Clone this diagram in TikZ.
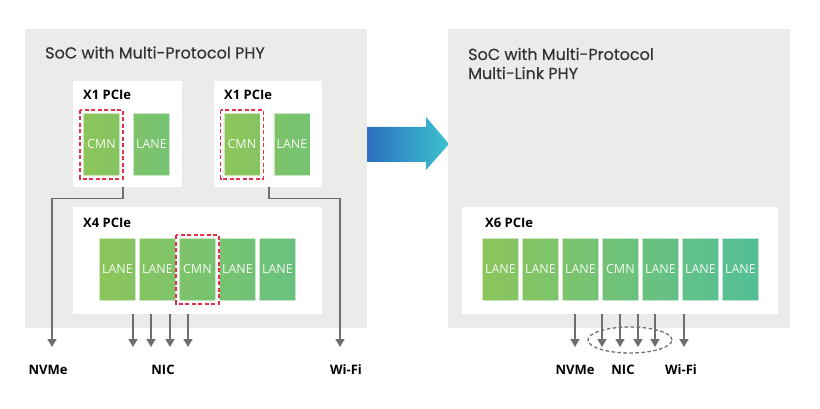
\documentclass[tikz,border=0pt]{standalone}
\usepackage{fontspec}
\setmainfont{Open Sans}
\newfontfamily\ttlfont[FakeBold=0.4]{Poppins}
\usetikzlibrary{arrows.meta,shapes.geometric}
\definecolor{bg}{HTML}{EBEBEA}
\definecolor{txt}{HTML}{333333}
\definecolor{gA}{HTML}{8CC55A}
\definecolor{gB}{HTML}{52BF98}
\definecolor{ln}{HTML}{6E6E6E}
\definecolor{dred}{HTML}{E8304A}
\definecolor{arB}{HTML}{2B6FBF}
\definecolor{arC}{HTML}{3CC2CF}
\tikzset{
  soc/.style={fill=bg, draw=none, anchor=north west, inner sep=0pt},
  wbox/.style={fill=white, draw=none, anchor=north west, inner sep=0pt},
  blk/.style={minimum width=36pt, minimum height=62pt, inner sep=0pt, anchor=north west,
    draw=white, draw opacity=0.6, line width=0.8pt, text=white!92!gA,
    font=\fontsize{12.5}{12.5}\selectfont},
  reddash/.style={draw=dred, line width=1.6pt, dash pattern=on 4pt off 2.5pt},
  conn/.style={draw=ln, line width=1.5pt, -{Triangle[length=8pt,width=9pt]}},
  ttl/.style={text=txt, font=\ttlfont\fontsize{16}{19}\selectfont, inner sep=0pt, anchor=base west},
  sub/.style={text=black, font=\bfseries\fontsize{13}{13}\selectfont, inner sep=0pt, anchor=base west},
  lbl/.style={text=black, font=\bfseries\fontsize{13}{13}\selectfont, inner sep=0pt, anchor=base},
}
\begin{document}
\begin{tikzpicture}[x=1pt,y=-1pt]
\useasboundingbox[fill=white] (0,0) rectangle (820,409);
% left SoC
\node[soc, minimum width=342pt, minimum height=299pt] (socL) at (25,29) {};
\node[ttl] (ttlL) at (45,58.5) {SoC with Multi-Protocol PHY};
\node[wbox, minimum width=109pt, minimum height=106pt] (b1) at (73,81) {};
\node[wbox, minimum width=108pt, minimum height=106pt] (b2) at (214,81) {};
\node[sub] (t1) at (83,100) {X1 PCIe};
\node[sub] (t2) at (224,100) {X1 PCIe};
\node[blk, left color=gA, right color=gB!12!gA] (c1) at (83,113) {CMN};
\node[blk, left color=gB!25!gA, right color=gB!40!gA] (l1) at (133,113) {LANE};
\node[blk, left color=gA, right color=gB!12!gA] (c2) at (223.5,113) {CMN};
\node[blk, left color=gB!25!gA, right color=gB!40!gA] (l2) at (273.5,113) {LANE};
\draw[reddash] ([xshift=-3pt,yshift=3pt]c1.north west) rectangle ([xshift=3pt,yshift=-3pt]c1.south east);
\draw[reddash] ([xshift=-3pt,yshift=3pt]c2.north west) rectangle ([xshift=3pt,yshift=-3pt]c2.south east);
\node[wbox, minimum width=249pt, minimum height=107pt] (b4) at (73,207) {};
\node[sub] (t4) at (83,227) {X4 PCIe};
\node[blk, left color=gA, right color=gB!12!gA] (x1) at (99,238) {LANE};
\node[blk, left color=gB!12!gA, right color=gB!24!gA] (x2) at (139,238) {LANE};
\node[blk, left color=gB!24!gA, right color=gB!36!gA] (x3) at (179,238) {CMN};
\node[blk, left color=gB!36!gA, right color=gB!48!gA] (x4) at (219,238) {LANE};
\node[blk, left color=gB!48!gA, right color=gB!60!gA] (x5) at (259,238) {LANE};
\draw[reddash] ([xshift=-3pt,yshift=3pt]x3.north west) rectangle ([xshift=3pt,yshift=-3pt]x3.south east);
% left connectors
\coordinate (nvL) at (52,347);
\coordinate (wfL) at (340,347);
\draw[conn] ([xshift=-4.5pt]b1.south) -- ++(0,11) -| (nvL);
\draw[conn] ([xshift=1pt]b2.south) -- ++(0,11) -| (wfL);
\foreach \i/\xx in {1/133,2/151,3/170,4/188}{
  \coordinate (nicL\i) at (\xx,347);
  \draw[conn] (b4.south -| nicL\i) -- (nicL\i);
}
\node[lbl] (lnv) at (48,374) {NVMe};
\node[lbl] (lnic) at (163,374) {NIC};
\node[lbl] (lwf) at (346,374) {Wi-Fi};
% big arrow
\shade[left color=arB, right color=arC] (367,127) -- (426,127) -- (426,117) -- (449,144) -- (426,170) -- (426,162) -- (367,162) -- cycle;
% right SoC
\node[soc, minimum width=342pt, minimum height=299pt] (socR) at (448,29) {};
\node[ttl] (ttlR1) at (468,60) {SoC with Multi-Protocol};
\node[ttl] (ttlR2) at (468,79) {Multi-Link PHY};
\node[wbox, minimum width=316pt, minimum height=107pt] (b6) at (462,207) {};
\node[sub] (t6) at (485,228) {X6 PCIe};
\foreach \i/\txt in {0/LANE,1/LANE,2/LANE,3/CMN,4/LANE,5/LANE,6/LANE}{
  \pgfmathsetmacro{\pa}{\i*100/7}
  \pgfmathsetmacro{\pb}{(\i+1)*100/7}
  \node[blk, left color=gB!\pa!gA, right color=gB!\pb!gA] (r\i) at (482+40*\i,238) {\txt};
}
\foreach \i/\xx in {1/575,2/602,3/620,4/638,5/655,6/684}{
  \coordinate (ar\i) at (\xx,347);
  \draw[conn] (b6.south -| ar\i) -- (ar\i);
}
\node[ellipse, draw=ln, line width=1.3pt, dash pattern=on 3.5pt off 2.5pt, minimum width=84pt, minimum height=26pt, inner sep=0pt] (nicgrp) at (630,340) {};
\node[lbl] (rnv) at (575,374) {NVMe};
\node[lbl] (rnic) at (623,374) {NIC};
\node[lbl] (rwf) at (681,374) {Wi-Fi};
\end{tikzpicture}
\end{document}
